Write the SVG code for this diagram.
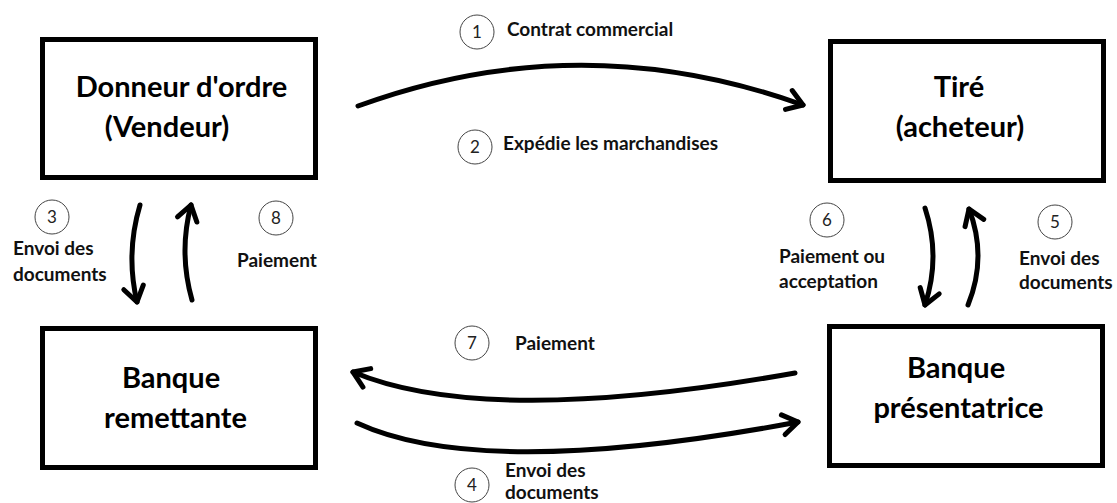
<svg xmlns="http://www.w3.org/2000/svg" width="1117" height="503" viewBox="0 0 1117 503">
<style>
.box{fill:#fff;stroke:#000;stroke-width:5}
.bt{font-family:Lato,"Open Sans",sans-serif;font-weight:bold;font-size:29px;fill:#000;text-anchor:middle}
.lb{font-family:Lato,"Open Sans",sans-serif;font-weight:bold;font-size:19px;fill:#111}
.num{font-family:Lato,"Open Sans",sans-serif;font-size:17px;fill:#222;text-anchor:middle}
.circ{fill:none;stroke:#444;stroke-width:1}
.arr{fill:none;stroke:#000;stroke-width:5;stroke-linecap:round;marker-end:url(#head)}
</style>
<defs>
<marker id="head" markerUnits="userSpaceOnUse" orient="auto" refX="0" refY="0" overflow="visible">
<path d="M -15 -10 L 0 0 L -15 10" fill="none" stroke="#000" stroke-width="5" stroke-linecap="round" stroke-linejoin="round"/>
</marker>
</defs>
<rect width="1117" height="503" fill="#fff"/>
<g id="donneur">
<rect class="box" x="42.5" y="39.5" width="273" height="138"/>
<text class="bt" x="181.5" y="97">Donneur d'ordre</text>
<text class="bt" x="167" y="137">(Vendeur)</text>
</g>
<g id="tire">
<rect class="box" x="830.5" y="41.5" width="273" height="139"/>
<text class="bt" x="959" y="97">Tiré</text>
<text class="bt" x="960" y="137">(acheteur)</text>
</g>
<g id="remettante">
<rect class="box" x="42.5" y="328.5" width="273" height="139"/>
<text class="bt" x="171" y="388">Banque</text>
<text class="bt" x="175.5" y="428">remettante</text>
</g>
<g id="presentatrice">
<rect class="box" x="829.5" y="326.5" width="273" height="139"/>
<text class="bt" x="956" y="378">Banque</text>
<text class="bt" x="958.5" y="418">présentatrice</text>
</g>
<g id="connectors">
<path class="arr" d="M 358 106 Q 579.5 25 803 105"/>
<path class="arr" d="M 140 205 Q 125.5 253.5 137 302"/>
<path class="arr" d="M 192 300 Q 178.5 252.5 191 205"/>
<path class="arr" d="M 925 208 Q 941 256.5 925 305"/>
<path class="arr" d="M 968 305 Q 987.5 257 969 209"/>
<path class="arr" d="M 795 373 Q 486 428 353 372"/>
<path class="arr" d="M 357 423 Q 482 481 798 422"/>
</g>
<g id="labels">
<circle class="circ" cx="477" cy="32" r="17"/><text class="num" x="477" y="38">1</text>
<text class="lb" x="507" y="36">Contrat commercial</text>
<circle class="circ" cx="475" cy="147" r="17"/><text class="num" x="475" y="153">2</text>
<text class="lb" x="503" y="150">Expédie les marchandises</text>
<circle class="circ" cx="52" cy="217" r="17"/><text class="num" x="52" y="223">3</text>
<text class="lb" x="13" y="255">Envoi des</text>
<text class="lb" x="13" y="281">documents</text>
<circle class="circ" cx="276" cy="218" r="17"/><text class="num" x="276" y="224">8</text>
<text class="lb" x="237" y="267">Paiement</text>
<circle class="circ" cx="827" cy="220" r="17"/><text class="num" x="827" y="226">6</text>
<text class="lb" x="779" y="263">Paiement ou</text>
<text class="lb" x="779" y="288">acceptation</text>
<circle class="circ" cx="1055" cy="222" r="17"/><text class="num" x="1055" y="228">5</text>
<text class="lb" x="1019" y="265">Envoi des</text>
<text class="lb" x="1019" y="289">documents</text>
<circle class="circ" cx="472" cy="343" r="17"/><text class="num" x="472" y="349">7</text>
<text class="lb" x="515" y="350">Paiement</text>
<circle class="circ" cx="472" cy="485" r="17"/><text class="num" x="472" y="491">4</text>
<text class="lb" x="505" y="477">Envoi des</text>
<text class="lb" x="505" y="499">documents</text>
</g>
</svg>
